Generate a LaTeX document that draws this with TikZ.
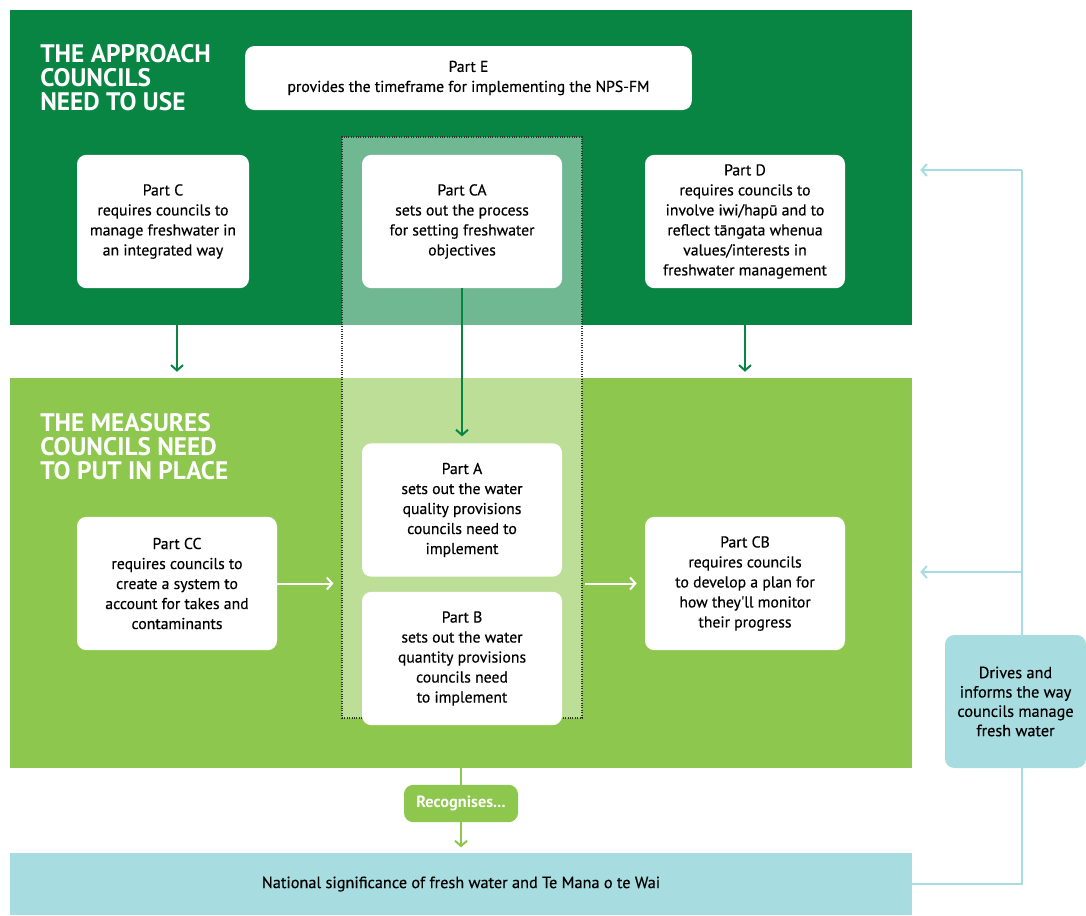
\documentclass[tikz,border=0pt]{standalone}
\usepackage{fontspec}
\setmainfont{PT Sans}
\newfontfamily\bodyfont{PT Sans}[FakeBold=0.4]
\usepackage{xcolor}
\usepackage{tikz}
\definecolor{approachgreen}{RGB}{8, 133, 66}
\definecolor{measuregreen}{RGB}{141, 199, 77}
\definecolor{waterblue}{RGB}{167, 221, 224}
\usetikzlibrary{arrows.meta, positioning, calc}

\begin{document}
\begin{tikzpicture}[
    x=0.75pt, y=-0.75pt,
    band/.style={rectangle, inner sep=0pt, minimum width=676.5pt},
    heading/.style={anchor=north west, align=left, inner sep=0pt, text=white, font=\fontsize{19}{18}\selectfont\bfseries},
    part/.style={rectangle, fill=white, rounded corners=7pt, minimum width=150pt, minimum height=100pt, align=center, inner sep=2pt, font=\bodyfont\fontsize{11.8}{15}\selectfont},
    arrow/.style={-{Straight Barb[length=4pt, width=9pt]}, line width=1.5pt},
    feed/.style={draw=waterblue, line width=1.5pt}
]
    \useasboundingbox (0,0) rectangle (1086,915);

    % background bands
    \node[band, fill=approachgreen, minimum height=236.25pt] (approach) at (461,167.5) {};
    \node[band, fill=measuregreen, minimum height=292.5pt] (measures) at (461,573) {};
    \node[band, fill=waterblue, minimum height=46.5pt, font=\bodyfont\fontsize{12.2}{15}\selectfont] (significance) at (461,884) {National significance of fresh water and Te Mana o te Wai};

    % highlighted column
    \node[rectangle, fill=white, fill opacity=0.42, draw=black!80, densely dotted, line width=0.8pt, minimum width=180pt, minimum height=435.75pt] (cabox) at (462,427.5) {};

    \node[heading] (approachtitle) at (40,44) {THE APPROACH\\COUNCILS\\NEED TO USE};
    \node[heading] (measurestitle) at (40,413) {THE MEASURES\\COUNCILS NEED\\TO PUT IN PLACE};

    \node[part, minimum width=335pt, minimum height=48pt] (partE) at (468.5,78) {Part E\\provides the timeframe for implementing the NPS-FM};
    \node[part, minimum width=129pt] (partC) at (163,221.5) {Part C\\requires councils to\\manage freshwater in\\an integrated way};
    \node[part] (partCA) at (462,221.5) {Part CA\\sets out the process\\for setting freshwater\\objectives};
    \node[part] (partD) at (745,221.5) {Part D\\requires councils to\\involve iwi/hapū and to\\reflect tāngata whenua\\values/interests in\\freshwater management};

    \node[part] (partCC) at (177,583.5) {Part CC\\requires councils to\\create a system to\\account for takes and\\contaminants};
    \node[part] (partA) at (462,510) {Part A\\sets out the water\\quality provisions\\councils need to\\implement};
    \node[part] (partB) at (462,658.5) {Part B\\sets out the water\\quantity provisions\\councils need\\to implement};
    \node[part] (partCB) at (745,583.5) {Part CB\\requires councils\\to develop a plan for\\how they'll monitor\\their progress};

    \node[rectangle, fill=measuregreen, rounded corners=7pt, minimum width=85.5pt, minimum height=28pt, text=white, font=\fontsize{12.2}{14}\selectfont\bfseries] (recog) at (461,803.5) {Recognises...};

    % arrows
    \draw[arrow, approachgreen, shorten >=4.5pt] (partCC |- approach.south) -- (partCC |- measures.north);
    \draw[arrow, approachgreen, shorten >=4.5pt] (partCB |- approach.south) -- (partCB |- measures.north);
    \draw[arrow, approachgreen, shorten >=5pt] (partCA.south) -- (partA.north);
    \draw[arrow, white, shorten >=6pt] (partCC.east) -- (cabox.west |- partCC.east);
    \draw[arrow, white, shorten <=2pt, shorten >=6pt] (cabox.east |- partCB.west) -- (partCB.west);
    \draw[line width=1.5pt, measuregreen] (measures.south) -- (recog.north);
    \draw[arrow, measuregreen, shorten >=4pt] (recog.south) -- (recog.south |- significance.north);

    % feedback loop
    \coordinate (fbtop) at (1022,170);
    \coordinate (fbmid) at (1022,572);
    \draw[feed] (significance.east) -| (fbtop);
    \draw[feed, arrow, shorten >=6pt] (fbtop) -- (fbtop -| approach.east);
    \draw[feed, arrow, shorten >=6pt] (fbmid) -- (fbmid -| measures.east);
    \node[rectangle, fill=waterblue, rounded corners=7pt, minimum width=105.75pt, minimum height=99.75pt, align=center, font=\bodyfont\fontsize{12.2}{14.5}\selectfont] (drives) at (1015.5,701.5) {Drives and\\informs the way\\councils manage\\fresh water};
\end{tikzpicture}
\end{document}
